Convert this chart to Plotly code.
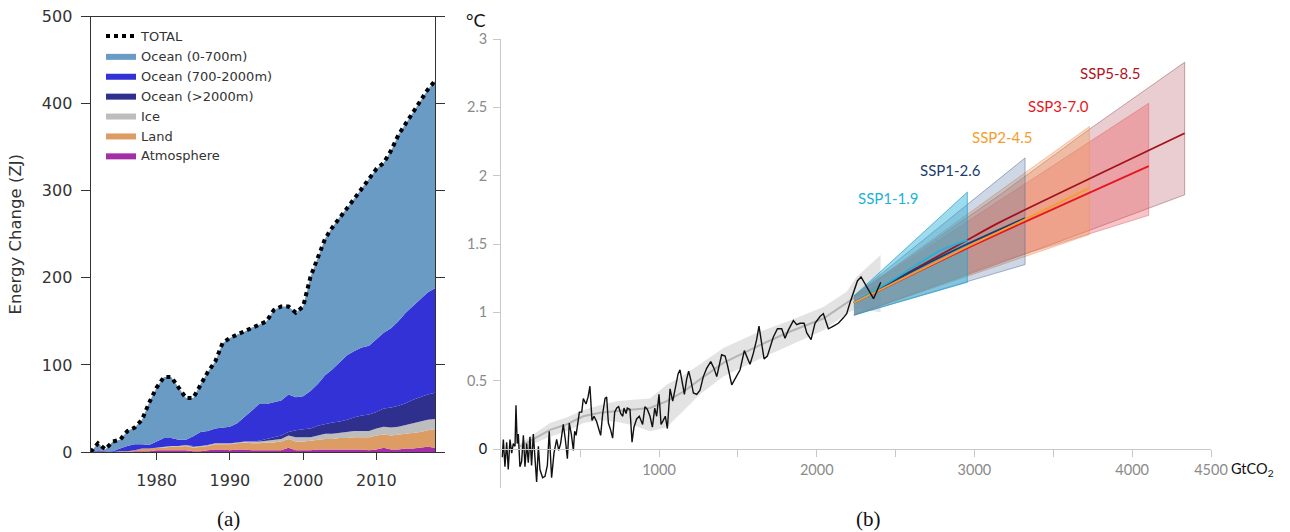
import plotly.graph_objects as go

W, H = 1290, 532

# ---------------- Panel (a): Earth energy inventory ----------------
years = list(range(1971, 2019))
# cumulative upper boundary of each stacked layer (ZJ)
atmosphere_top = [0, 1, 1, 0, 0, 0, 1, 1, 1, 2, 2, 2, 2, 2, 1, 1, 2, 3, 3, 2,
                  3, 3, 2, 2, 2, 2, 2, 5, 2, 2, 2, 3, 3, 3, 3, 3, 3, 3, 2, 3,
                  5, 3, 3, 4, 4, 5, 6, 5]
land_top = [0, 1, 1, 0, 1, 1, 2, 4, 4, 5, 5, 6, 6, 7, 5, 6, 7, 9, 9, 9,
            10, 11, 10, 10, 11, 11, 12, 15, 12, 12, 13, 14, 15, 15, 16, 16, 17, 17, 17, 19,
            20, 19, 20, 21, 22, 23, 25, 26]
ice_top = [0, 1, 1, 0, 1, 1, 2, 4, 4, 5, 6, 7, 7, 8, 6, 7, 8, 10, 10, 10,
           11, 12, 12, 12, 13, 14, 15, 19, 17, 17, 17, 19, 21, 21, 22, 23, 24, 24, 24, 27,
           29, 28, 29, 31, 33, 35, 37, 38]
ocean_deep_top = [0, 1, 1, 0, 1, 1, 2, 4, 4, 5, 6, 7, 7, 8, 7, 7, 8, 10, 10, 10,
                  11, 12, 12, 13, 15, 17, 19, 23, 25, 26, 27, 30, 32, 34, 35, 37, 40, 42, 43, 46,
                  50, 51, 53, 56, 60, 63, 66, 68]
ocean_mid_top = [0, 2, 1, 1, 4, 7, 9, 9, 8, 12, 16, 16, 14, 14, 18, 23, 24, 27, 28, 29,
                 33, 40, 47, 55, 55, 57, 59, 66, 63, 64, 70, 78, 88, 95, 103, 111, 116, 120, 122, 130,
                 137, 142, 150, 160, 168, 175, 183, 188]
total = [0, 10, 3, 12, 14, 24, 28, 37, 57, 74, 86, 86, 74, 62, 62, 78, 92, 104, 125, 131,
         135, 138, 143, 146, 150, 163, 167, 167, 160, 167, 201, 223, 245, 258, 270, 280, 291, 302, 313, 325,
         332, 346, 364, 377, 389, 403, 416, 426]

layer_names = ["Atmosphere", "Land", "Ice", "Ocean (>2000m)", "Ocean (700-2000m)", "Ocean (0-700m)"]
layer_values = [atmosphere_top, land_top, ice_top, ocean_deep_top, ocean_mid_top, total]
layer_colors = ["#a32ea6", "#dc9c63", "#bdbdbd", "#2f2f8e", "#3232d6", "#6a9bc5"]
y_ticks_a = [0, 100, 200, 300, 400, 500]
x_ticks_a = [1980, 1990, 2000, 2010]

# ---------------- Panel (b): warming vs cumulative CO2 ----------------
hist_co2 = [6, 13, 23, 34, 44, 55, 66, 76, 87, 93, 101, 108, 118, 129, 140, 150, 161, 171, 182, 192,
            203, 214, 224, 235, 245, 262, 277, 292, 304, 319, 334, 351, 364, 376, 393, 406, 419, 431, 444, 457,
            465, 474, 484, 495, 510, 520, 537, 550, 562, 575, 588, 605, 617, 630, 643, 658, 668, 679, 693, 706,
            719, 732, 744, 757, 770, 778, 791, 799, 816, 829, 841, 858, 875, 896, 911, 926, 943, 958, 973, 985,
            1000, 1013, 1027, 1040, 1053, 1070, 1087, 1101, 1121, 1133, 1148, 1161, 1175, 1188, 1201, 1218, 1239, 1260, 1281, 1302,
            1328, 1349, 1366, 1381, 1397, 1419, 1433, 1461, 1482, 1514, 1541, 1562, 1577, 1598, 1619, 1634, 1651, 1666, 1687, 1704,
            1725, 1751, 1778, 1799, 1820, 1852, 1873, 1894, 1920, 1937, 1964, 1989, 2021, 2042, 2074, 2106, 2137, 2169, 2190, 2211,
            2237, 2258, 2281, 2320, 2360, 2406]
hist_temp = [-0.06, 0.07, -0.13, 0.05, -0.15, 0.07, -0.03, 0.04, 0.02, 0.32, 0.04, 0.11, -0.13, -0.09, 0.10, -0.13, 0.04, -0.10, 0.09, -0.12,
             0.11, -0.06, -0.24, 0.02, -0.15, -0.21, -0.20, -0.12, 0.13, -0.21, -0.03, 0.07, -0.01, 0.04, 0.18, 0.07, -0.07, 0.19, 0.11, -0.01,
             0.13, 0.10, 0.19, 0.27, 0.27, 0.37, 0.33, 0.38, 0.46, 0.21, 0.24, 0.20, 0.15, 0.10, 0.26, 0.37, 0.38, 0.19, 0.14, 0.08,
             0.27, 0.30, 0.31, 0.26, 0.24, 0.30, 0.26, 0.30, 0.29, 0.05, 0.16, 0.22, 0.24, 0.18, 0.31, 0.29, 0.24, 0.16, 0.30, 0.24,
             0.40, 0.18, 0.21, 0.24, 0.15, 0.44, 0.35, 0.43, 0.55, 0.58, 0.48, 0.40, 0.51, 0.57, 0.51, 0.41, 0.40, 0.43, 0.53, 0.59,
             0.64, 0.59, 0.53, 0.62, 0.69, 0.68, 0.62, 0.47, 0.51, 0.58, 0.72, 0.66, 0.62, 0.70, 0.80, 0.90, 0.77, 0.66, 0.68, 0.75,
             0.82, 0.88, 0.88, 0.81, 0.87, 0.94, 0.91, 0.92, 0.92, 0.85, 0.80, 0.92, 0.97, 0.99, 0.88, 0.90, 0.92, 0.96, 0.99, 1.07,
             1.15, 1.23, 1.26, 1.18, 1.10, 1.22]

# assessed human-induced warming (smoothed) and its likely range
band_co2 = [120, 309, 414, 520, 625, 731, 837, 943, 1049, 1155, 1260, 1408, 1620, 1831, 2042, 2190, 2254, 2405]
band_lo = [0.00, 0.09, 0.13, 0.19, 0.21, 0.20, 0.175, 0.13, 0.16, 0.28, 0.40, 0.53, 0.65, 0.76, 0.87, 0.99, 1.03, 1.00]
band_hi = [0.04, 0.19, 0.23, 0.285, 0.32, 0.35, 0.36, 0.37, 0.47, 0.54, 0.62, 0.74, 0.85, 0.94, 1.04, 1.15, 1.26, 1.42]
band_mid = [0.02, 0.14, 0.18, 0.24, 0.265, 0.28, 0.29, 0.30, 0.35, 0.42, 0.51, 0.63, 0.75, 0.86, 0.955, 1.07, 1.12, 1.20]

# scenario projections: central lines and ranges
ssp_names = ["SSP5-8.5", "SSP3-7.0", "SSP2-4.5", "SSP1-2.6", "SSP1-1.9"]
ssp_line_x = [[2236, 2955, 3162, 4333],
              [2236, 2955, 4105],
              [2236, 2955, 3321, 3729],
              [2236, 2570, 2955, 3321],
              [2236, 2500, 2780, 2955]]
ssp_line_y = [[1.07, 1.53, 1.66, 2.31],
              [1.07, 1.47, 2.07],
              [1.07, 1.48, 1.68, 1.91],
              [1.07, 1.28, 1.50, 1.69],
              [1.07, 1.25, 1.45, 1.53]]
ssp_range_x = [[2236, 3162, 3729, 4333],
               [2236, 3162, 4105],
               [2236, 3729],
               [2236, 3321],
               [2236, 2955]]
ssp_range_lo = [[0.98, 1.36, 1.60, 1.86],
                [0.98, 1.37, 1.71],
                [0.98, 1.57],
                [0.98, 1.35],
                [0.98, 1.22]]
ssp_range_hi = [[1.12, 1.86, 2.34, 2.83],
                [1.12, 1.82, 2.53],
                [1.12, 2.36],
                [1.12, 2.13],
                [1.12, 1.88]]
ssp_line_colors = ["#a3121c", "#e8161e", "#f59c2c", "#1c3d6e", "#22b2d8"]
ssp_fill_colors = ["rgba(185,90,100,0.30)", "rgba(235,75,85,0.33)", "rgba(245,160,95,0.38)",
                   "rgba(80,110,160,0.28)", "rgba(40,175,215,0.45)"]
ssp_edge_colors = ["rgba(150,95,100,0.55)", "rgba(220,90,100,0.45)", "rgba(230,150,100,0.5)",
                   "rgba(80,105,150,0.5)", "rgba(40,160,200,0.7)"]
ssp_label_colors = ["#b0131e", "#e8161e", "#f59c2c", "#1c3d6e", "#22b2d8"]
ssp_label_pos = [(3860, 2.75), (3530, 2.51), (3181, 2.28), (2851, 2.04), (2458, 1.84)]

x_ticks_b = [1000, 2000, 3000, 4000, 4500]
x_minor_b = [500, 1500, 2500, 3500]
y_ticks_b = [0, 0.5, 1, 1.5, 2, 2.5, 3]
y_labels_b = ["<span style='color:#111'>0</span>", "0.5", "1", "1.5", "2", "2.5", "3"]

# ---------------- figure ----------------
fig = go.Figure()
SANS_A = "DejaVu Sans"
SANS_B = "Lato"

# stacked layers (a)
for i, (name, vals, col) in enumerate(zip(layer_names, layer_values, layer_colors)):
    fig.add_trace(go.Scatter(
        x=years, y=vals, name=name, mode="lines",
        line=dict(width=0, color=col),
        fill="tozeroy" if i == 0 else "tonexty", fillcolor=col,
        legendrank=7 - i, xaxis="x", yaxis="y", hoverinfo="skip"))
fig.add_trace(go.Scatter(
    x=years, y=total, name="TOTAL", mode="lines",
    line=dict(color="black", width=4, dash="dot"),
    legendrank=0, xaxis="x", yaxis="y"))

# (b) gray assessed band
fig.add_trace(go.Scatter(
    x=band_co2 + band_co2[::-1], y=band_lo + band_hi[::-1],
    fill="toself", fillcolor="rgba(200,200,200,0.5)", line=dict(width=0),
    mode="lines", showlegend=False, xaxis="x2", yaxis="y2", hoverinfo="skip"))
fig.add_trace(go.Scatter(
    x=band_co2, y=band_mid, mode="lines", line=dict(color="rgba(175,175,175,0.9)", width=2),
    showlegend=False, xaxis="x2", yaxis="y2", hoverinfo="skip"))

# scenario ranges
for i in range(len(ssp_names)):
    rx = ssp_range_x[i]
    fig.add_trace(go.Scatter(
        x=rx + rx[::-1], y=ssp_range_lo[i] + ssp_range_hi[i][::-1],
        fill="toself", fillcolor=ssp_fill_colors[i],
        line=dict(color=ssp_edge_colors[i], width=1),
        mode="lines", showlegend=False, xaxis="x2", yaxis="y2", hoverinfo="skip"))

# scenario central lines (SSP2-4.5 drawn last)
for i in [0, 1, 3, 4, 2]:
    fig.add_trace(go.Scatter(
        x=ssp_line_x[i], y=ssp_line_y[i], mode="lines", name=ssp_names[i],
        line=dict(color=ssp_line_colors[i], width=1.8, shape="spline", smoothing=0.6),
        showlegend=False, xaxis="x2", yaxis="y2"))

# observed
fig.add_trace(go.Scatter(
    x=hist_co2, y=hist_temp, mode="lines", line=dict(color="#111111", width=1.4),
    showlegend=False, xaxis="x2", yaxis="y2"))

annotations = []
for name, (px, py), col in zip(ssp_names, ssp_label_pos, ssp_label_colors):
    annotations.append(dict(x=px, y=py, xref="x2", yref="y2", text=name, showarrow=False,
                            xanchor="center", yanchor="middle",
                            font=dict(family=SANS_B, size=15, color=col)))
annotations += [
    dict(x=476 / W, y=1 - 20 / H, xref="paper", yref="paper", text="°C", showarrow=False,
         xanchor="center", yanchor="middle", font=dict(family=SANS_B, size=18, color="#111")),
    dict(x=1229 / W, y=1 - 469 / H, xref="paper", yref="paper", xanchor="left", yanchor="middle",
         text="GtCO<sub>2</sub>", showarrow=False, font=dict(family=SANS_B, size=14.5, color="#111")),
    dict(x=228 / W, y=1 - 519 / H, xref="paper", yref="paper", text="(a)", showarrow=False,
         xanchor="center", yanchor="middle",
         font=dict(family="Liberation Serif", size=21, color="#111")),
    dict(x=868 / W, y=1 - 519 / H, xref="paper", yref="paper", text="(b)", showarrow=False,
         xanchor="center", yanchor="middle",
         font=dict(family="Liberation Serif", size=21, color="#111")),
]

axis_a = dict(showline=True, linecolor="#333", linewidth=1.3, ticks="outside", tickcolor="#333",
              tickwidth=1.3, showgrid=False, zeroline=False, automargin=False,
              tickfont=dict(family=SANS_A, size=16, color="#333"))
axis_b = dict(showline=True, linecolor="#c8c8c8", linewidth=1.3, ticks="outside", tickcolor="#c8c8c8",
              tickwidth=1.3, ticklen=7, showgrid=False, zeroline=False, automargin=False,
              tickfont=dict(family=SANS_B, size=14.5, color="#8a8a8a"))

fig.update_layout(
    width=W, height=H, margin=dict(l=0, r=0, t=0, b=0, autoexpand=False),
    paper_bgcolor="white", plot_bgcolor="white",
    showlegend=True,
    legend=dict(x=101 / W, y=1 - 21 / H, xanchor="left", yanchor="top", traceorder="normal",
                bgcolor="rgba(0,0,0,0)", font=dict(family=SANS_A, size=13, color="#333"),
                itemwidth=30, tracegroupgap=0),
    xaxis=dict(axis_a, domain=[90.7 / W, 435 / W], range=[1971, 2018], tickvals=x_ticks_a,
               ticklen=7, ticklabelstandoff=7, mirror=True, anchor="y"),
    yaxis=dict(axis_a, domain=[1 - 452 / H, 1 - 16.5 / H], range=[0, 500], tickvals=y_ticks_a,
               ticklen=9, ticklabelstandoff=5, mirror="ticks", anchor="x",
               title=dict(text="Energy Change (ZJ)", standoff=16,
                          font=dict(family=SANS_A, size=16.5, color="#333"))),
    xaxis2=dict(axis_b, domain=[501.3 / W, 1211 / W], range=[0, 4500], tickvals=x_ticks_b,
                minor=dict(tickvals=x_minor_b, ticks="outside", ticklen=7, tickcolor="#c8c8c8",
                           tickwidth=1.3, showgrid=False),
                anchor="free", position=1 - 449 / H),
    yaxis2=dict(axis_b, domain=[1 - 488 / H, 1 - 39 / H], range=[-0.285, 3], tickvals=y_ticks_b,
                ticktext=y_labels_b, ticklabelstandoff=3, anchor="x2"),
    annotations=annotations,
)

fig.write_html("out.html", config={"displayModeBar": False},
               post_script="document.body.style.margin='0';")
